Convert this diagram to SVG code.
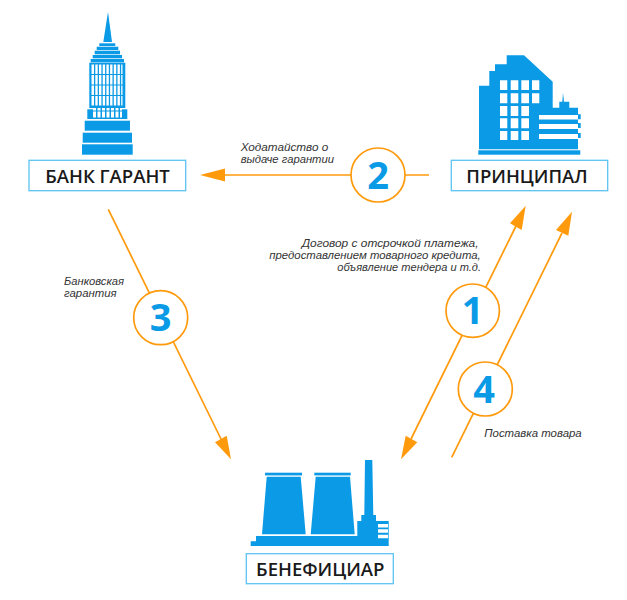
<svg xmlns="http://www.w3.org/2000/svg" width="627" height="600" viewBox="0 0 627 600">
<style>
.i{fill:#0a9ae6}.w{fill:#fff}
.box{fill:#fff;stroke:#5cc4f2;stroke-width:1.3}
.t{font-family:"Open Sans","Noto Sans",sans-serif;font-weight:600;font-size:18.5px;fill:#1a1a1a;text-anchor:middle}
.c{fill:#fff;stroke:#ff9a0d;stroke-width:1.7}
.n{font-family:"Open Sans","Noto Sans",sans-serif;font-weight:700;font-size:38px;fill:#0a9ae6;text-anchor:middle}
.l{stroke:#ff9a0d;stroke-width:1.7;fill:none}
.h{fill:#ff9a0d}
.s{font-family:"Liberation Sans","Open Sans",sans-serif;font-style:italic;font-size:10.2px;fill:#333}
</style>
<g id="connectors">
<line class="l" x1="429" y1="175" x2="222" y2="175"/><polygon class="h" points="200,175 225,168.500 225,181.500"/>
<line class="l" x1="108.300" y1="209.300" x2="222" y2="441"/><polygon class="h" points="231,459.300 215,442.300 226.700,435.700"/>
<line class="l" x1="516" y1="226" x2="411" y2="439"/><polygon class="h" points="525.700,205.700 521.700,230 510,223.300"/><polygon class="h" points="401,459.300 405.700,435.700 417.300,442.300"/>
<line class="l" x1="451.700" y1="457.300" x2="562" y2="233"/><polygon class="h" points="572,211.700 568.300,235.700 556,230"/>
</g>
<g id="step-2"><circle class="c" cx="378" cy="175" r="27"/><text class="n" x="378" y="188.500">2</text></g>
<g id="step-3"><circle class="c" cx="160.700" cy="317.700" r="27"/><text class="n" x="160.700" y="331">3</text></g>
<g id="step-1"><circle class="c" cx="472.700" cy="310.700" r="26.700"/><text class="n" x="472.700" y="324">1</text></g>
<g id="step-4"><circle class="c" cx="485.300" cy="389" r="27"/><text class="n" x="484" y="402.500">4</text></g>
<g id="label-2"><text class="s"><tspan x="240.700" y="150.700" textLength="87.600" lengthAdjust="spacingAndGlyphs">Ходатайство о</tspan><tspan x="240.700" y="162.700" textLength="93.300" lengthAdjust="spacingAndGlyphs">выдаче гарантии</tspan></text></g>
<g id="label-1"><text class="s"><tspan x="301.700" y="246.700" textLength="176.800" lengthAdjust="spacingAndGlyphs">Договор с отсрочкой платежа,</tspan><tspan x="269.300" y="258.700" textLength="211.400" lengthAdjust="spacingAndGlyphs">предоставлением товарного кредита,</tspan><tspan x="337.300" y="270.700" textLength="143.700" lengthAdjust="spacingAndGlyphs">объявление тендера и т.д.</tspan></text></g>
<g id="label-3"><text class="s"><tspan x="64" y="285" textLength="60" lengthAdjust="spacingAndGlyphs">Банковская</tspan><tspan x="64" y="297" textLength="52.700" lengthAdjust="spacingAndGlyphs">гарантия</tspan></text></g>
<g id="label-4"><text class="s" x="484.300" y="436.700" textLength="97.400" lengthAdjust="spacingAndGlyphs">Поставка товара</text></g>
<g id="bank">
<polygon class="i" points="108,12 103.300,42 112,42"/>
<rect class="i" x="99.300" y="43.300" width="16" height="2.700"/>
<rect class="i" x="96.700" y="46.700" width="21.600" height="3.300"/>
<rect class="i" x="94.700" y="50.700" width="25.300" height="3.600"/>
<rect class="i" x="92.700" y="55" width="29.300" height="3.300"/>
<rect class="i" x="90.700" y="59" width="33.300" height="3.300"/>
<rect class="i" x="89.300" y="62.700" width="36" height="45.300"/>
<path class="w" d="M91.500 64.500h31v9.500h-31zM91.500 75h31v9.500h-31zM91.500 85.500h31v9.500h-31zM91.500 96h31v9.500h-31z"/>
<path class="i" d="M94 64h1.300v42h-1.300zM97.700 64h1.300v42h-1.300zM101.400 64h1.300v42h-1.300zM105.100 64h1.300v42h-1.300zM108.800 64h1.300v42h-1.300zM112.500 64h1.300v42h-1.300zM116.200 64h1.300v42h-1.300zM119.900 64h1.300v42h-1.300z"/>
<rect class="i" x="87.300" y="109.300" width="40" height="9.700"/>
<rect class="w" x="93" y="108" width="29" height="9.500"/>
<path class="i" d="M96 108h1.500v10h-1.500zM100.500 108h1.500v10h-1.500zM105 108h1.500v10h-1.500zM109.500 108h1.500v10h-1.500zM114 108h1.500v10h-1.500zM118.500 108h1.500v10h-1.500zM93 110.500h29v1h-29z"/>
<rect class="i" x="84.700" y="120.700" width="45.300" height="10"/>
<rect class="i" x="82.700" y="132.700" width="49.300" height="10"/>
<rect class="i" x="82" y="144.300" width="50.700" height="10.400"/>
<rect class="box" x="29" y="160.300" width="156.700" height="30.400"/>
<text class="t" x="107.500" y="182.500">БАНК ГАРАНТ</text>
</g>
<g id="principal">
<polygon class="i" points="479,85.700 489.300,85.700 489.300,71 495,71 495,64.300 506.700,64.300 506.700,55.300 524,55.300 552.700,81.700 552.700,107.700 559.300,107.700 559.300,101.700 562.300,101.700 563,92.700 564,101.700 569.300,101.700 569.300,107.700 578,107.700 578,114.300 580.700,114.300 580.700,119.300 578,119.300 578,123 580.700,123 580.700,128 578,128 578,133 580.700,133 580.700,138 578,138 578,149.300 479,149.300"/>
<rect class="i" x="478.300" y="150.300" width="102" height="4.400"/>
<path class="w" d="M500 80.300h7.300v9.700h-7.300zM510.700 80.300h7.600v9.700h-7.600zM521.300 80.300h7.700v9.700h-7.700zM532 80.300h7.300v9.700h-7.300zM500 93.300h7.300v10h-7.300zM510.700 93.300h7.600v10h-7.600zM521.300 93.300h7.700v10h-7.700zM532 93.300h7.300v10h-7.300zM500 106h7.300v10h-7.300zM510.700 106h7.600v10h-7.600zM521.300 106h7.700v10h-7.700zM500 118.300h7.300v10h-7.300zM510.700 118.300h7.600v10h-7.600zM521.300 118.300h7.700v10h-7.700zM500 131h7.300v9h-7.300zM510.700 131h7.600v9h-7.600zM521.300 131h7.700v9h-7.700z"/>
<path class="w" d="M539 115h39v4.500h-39zM539 124h39v5h-39zM539 134h39v5h-39z"/>
<rect class="box" x="451.300" y="160.300" width="156.400" height="30.400"/>
<text class="t" x="527" y="183">ПРИНЦИПАЛ</text>
</g>
<g id="beneficiary">
<rect class="i" x="265" y="472.700" width="37" height="2.700"/>
<polygon class="i" points="266.700,476.700 300.700,476.700 305.700,534.300 262,534.300"/>
<rect class="i" x="314.300" y="472.700" width="36.400" height="2.700"/>
<polygon class="i" points="315.700,476.700 350,476.700 354.700,534.300 310.700,534.300"/>
<polygon class="i" points="250.700,546 250.700,541.300 256,541.300 256,536 357.300,536 357.300,521 361.300,521 361.300,515 364.300,515 365,460 372.300,460 373.300,515 376,515 376,521 388.700,521 388.700,546"/>
<path class="w" d="M378 524h10v3.500h-10zM378 529.300h10v3.500h-10zM378 534.700h10v3.500h-10z"/>
<rect class="box" x="246.300" y="553.700" width="147" height="30"/>
<text class="t" x="320.300" y="576">БЕНЕФИЦИАР</text>
</g>
</svg>
